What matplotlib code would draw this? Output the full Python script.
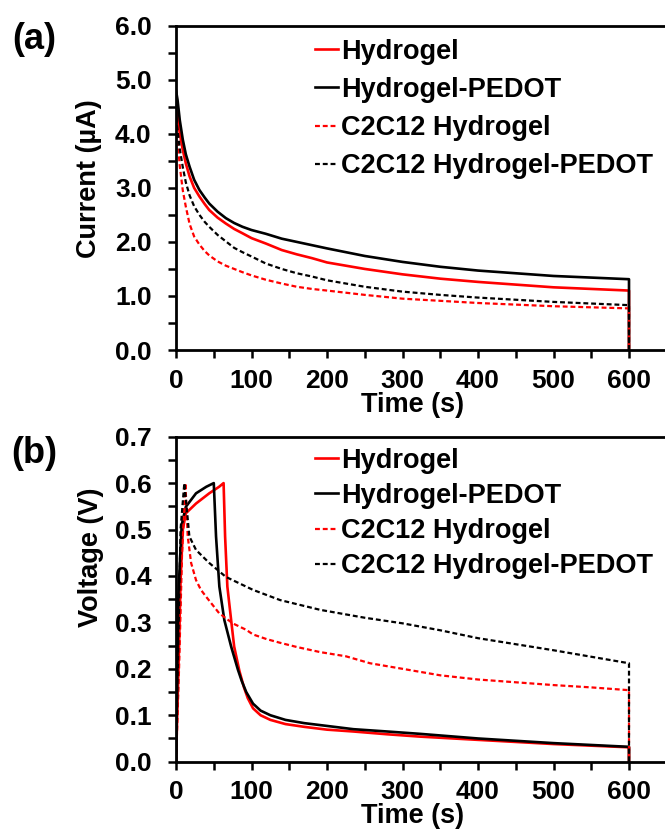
import matplotlib
matplotlib.use("Agg")
import matplotlib.pyplot as plt
from matplotlib.ticker import MultipleLocator

plt.rcParams["font.family"] = ["Liberation Sans", "DejaVu Sans"]
plt.rcParams["font.weight"] = "bold"
plt.rcParams["axes.labelweight"] = "bold"

# (a) Corriente vs tiempo
t_a = [0, 2, 5, 9, 13, 18, 24, 31, 38, 44, 55, 66, 77, 88, 100, 119, 140, 160, 180, 200, 250, 300, 350,
       400, 450, 500, 550, 600, 600]
i_hydrogel = [4.45, 4.32, 4.0, 3.70, 3.45, 3.21, 3.0, 2.84, 2.70, 2.59, 2.45, 2.34, 2.24, 2.16, 2.07, 1.97,
              1.85, 1.77, 1.70, 1.62, 1.50, 1.40, 1.32, 1.26, 1.21, 1.16, 1.13, 1.10, 0.0]
i_pedot = [4.8, 4.63, 4.25, 3.89, 3.62, 3.39, 3.15, 2.96, 2.82, 2.71, 2.56, 2.44, 2.35, 2.28, 2.22, 2.15,
           2.06, 2.0, 1.94, 1.88, 1.74, 1.63, 1.54, 1.47, 1.42, 1.37, 1.34, 1.31, 0.0]
i_c2c12_hydrogel = [4.3, 3.89, 3.4, 2.95, 2.65, 2.33, 2.1, 1.95, 1.83, 1.75, 1.64, 1.56, 1.50, 1.44, 1.38,
                    1.30, 1.23, 1.17, 1.13, 1.10, 1.02, 0.95, 0.91, 0.87, 0.84, 0.81, 0.79, 0.77, 0.0]
i_c2c12_pedot = [4.3, 4.07, 3.72, 3.38, 3.10, 2.86, 2.66, 2.50, 2.37, 2.28, 2.13, 2.01, 1.89, 1.81, 1.73,
                 1.60, 1.50, 1.42, 1.36, 1.29, 1.17, 1.08, 1.02, 0.97, 0.93, 0.89, 0.86, 0.83, 0.0]

# (b) Voltaje vs tiempo
t_v_hydrogel = [0, 4, 6, 9, 13, 26.5, 44, 57, 63, 65, 68, 73, 77, 84, 90, 95, 102, 112, 125, 145, 170,
                200, 235, 280, 323, 400, 500, 600, 600]
v_hydrogel = [0.0, 0.25, 0.39, 0.50, 0.535, 0.556, 0.578, 0.592, 0.60, 0.485, 0.377, 0.305, 0.248, 0.195,
              0.16, 0.137, 0.115, 0.10, 0.09, 0.081, 0.075, 0.069, 0.065, 0.059, 0.054, 0.047, 0.038,
              0.031, 0.0]
t_v_pedot = [0, 3, 7.5, 13, 26.5, 40, 50, 53, 57.4, 64, 73, 82, 87, 93, 102, 112, 125, 145, 170, 200,
             235, 280, 323, 400, 500, 600, 600]
v_pedot = [0.0, 0.355, 0.51, 0.549, 0.578, 0.592, 0.60, 0.485, 0.377, 0.305, 0.248, 0.198, 0.174, 0.15,
           0.125, 0.11, 0.10, 0.09, 0.083, 0.077, 0.07, 0.065, 0.06, 0.05, 0.04, 0.032, 0.0]
t_v_c2c12_hydrogel = [0, 4, 8, 12.4, 15.5, 20, 26.5, 33, 40, 57, 75, 93, 102, 120, 138, 160, 191, 225,
                      257, 300, 350, 400, 450, 500, 550, 600, 600]
v_c2c12_hydrogel = [0.0, 0.2, 0.45, 0.60, 0.485, 0.428, 0.391, 0.37, 0.355, 0.32, 0.298, 0.284, 0.274,
                    0.264, 0.256, 0.247, 0.236, 0.227, 0.212, 0.200, 0.186, 0.177, 0.171, 0.165, 0.16,
                    0.154, 0.0]
t_v_c2c12_pedot = [0, 3, 6, 11, 17.7, 26.5, 44, 66, 93, 102, 138, 191, 250, 300, 350, 400, 450, 500, 550,
                   600, 600]
v_c2c12_pedot = [0.0, 0.25, 0.5, 0.60, 0.485, 0.456, 0.428, 0.398, 0.377, 0.37, 0.348, 0.327, 0.31, 0.298,
                 0.283, 0.266, 0.253, 0.24, 0.226, 0.212, 0.0]

labels = ["Hydrogel", "Hydrogel-PEDOT", "C2C12 Hydrogel", "C2C12 Hydrogel-PEDOT"]
colores = ["red", "black", "red", "black"]
dash = (0, (2.2, 1.3))
estilos = ["-", "-", dash, dash]
anchos = [1.9, 1.9, 1.6, 1.6]

fig = plt.figure(figsize=(6.65, 8.3), dpi=100)
ax_a = fig.add_axes([0.2647, 0.5783, 0.7947, 0.3907])
ax_b = fig.add_axes([0.2647, 0.0823, 0.7947, 0.3916])

series_a = [(t_a, i_hydrogel), (t_a, i_pedot), (t_a, i_c2c12_hydrogel), (t_a, i_c2c12_pedot)]
series_b = [(t_v_hydrogel, v_hydrogel), (t_v_pedot, v_pedot),
            (t_v_c2c12_hydrogel, v_c2c12_hydrogel), (t_v_c2c12_pedot, v_c2c12_pedot)]

for ax, series in zip([ax_a, ax_b], [series_a, series_b]):
    for (x, y), lab, c, ls, lw in zip(series, labels, colores, estilos, anchos):
        ax.plot(x, y, color=c, linestyle=ls, linewidth=lw, label=lab)

# Ejes
ax_a.set_xlim(0, 700)
ax_a.set_ylim(0, 6)
ax_a.yaxis.set_major_locator(MultipleLocator(1))
ax_a.yaxis.set_minor_locator(MultipleLocator(0.5))
ax_a.yaxis.set_major_formatter(lambda v, p: f"{v:.1f}")
ax_a.set_ylabel("Current (µA)", fontsize=19.5)
ax_a.yaxis.set_label_coords(-0.14, 0.53)

ax_b.set_xlim(0, 700)
ax_b.set_ylim(0, 0.7)
ax_b.yaxis.set_major_locator(MultipleLocator(0.1))
ax_b.yaxis.set_minor_locator(MultipleLocator(0.05))
ax_b.yaxis.set_major_formatter(lambda v, p: f"{v:.1f}")
ax_b.set_ylabel("Voltage (V)", fontsize=19.5)
ax_b.yaxis.set_label_coords(-0.136, 0.63)

for ax, sp, ly in zip([ax_a, ax_b], [0.45, 0.34], [0.96, 0.966]):
    ax.set_xticks(range(0, 601, 100))
    ax.xaxis.set_minor_locator(MultipleLocator(50))
    ax.tick_params(which="both", direction="out", length=5.5, width=1.8, labelsize=19)
    ax.tick_params(axis="x", which="both", pad=8)
    ax.tick_params(axis="y", which="both", pad=12)
    ax.spines["right"].set_visible(False)
    for s in ["left", "bottom", "top"]:
        ax.spines[s].set_linewidth(2)
    ax.set_xlabel("Time (s)", fontsize=19.5)
    ax.xaxis.set_label_coords(0.447, -0.128)
    ax.legend(loc="upper left", bbox_to_anchor=(0.263, ly), frameon=False, fontsize=19.5,
              handlelength=0.85, handletextpad=0.1, borderpad=0, borderaxespad=0, labelspacing=sp)

fig.text(0.052, 0.952, "(a)", fontsize=26, fontweight="bold", ha="center", va="center")
fig.text(0.052, 0.454, "(b)", fontsize=26, fontweight="bold", ha="center", va="center")

fig.savefig("out.png", dpi=100)
